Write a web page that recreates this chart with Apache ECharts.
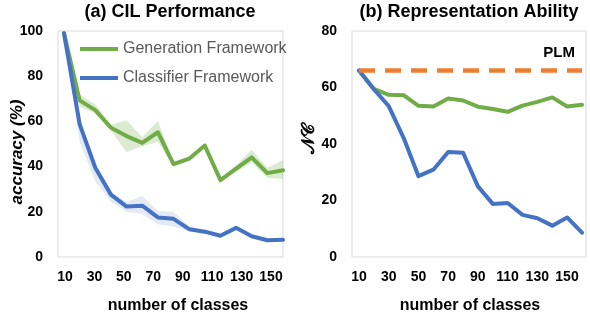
<!DOCTYPE html>
<html>
<head>
<meta charset="utf-8">
<script src="https://cdn.jsdelivr.net/npm/echarts@6/dist/echarts.min.js"></script>
<style>
html,body{margin:0;padding:0;background:#fff;}
#c{width:590px;height:312px;}
</style>
</head>
<body>
<div id="c"></div>
<script>
// ---- data: (a) CIL Performance ----
const classesA = [10,20,30,40,50,60,70,80,90,100,110,120,130,140,150];
const genA      = [99, 69.3, 65.0, 57.2, 53.5, 50.5, 55.2, 41.1, 43.5, 49.3, 34.0, 39.1, 44.1, 37.1, 38.4];
const genAUpper = [99, 72.0, 67.5, 58.5, 60.5, 53.0, 60.2, 42.0, 44.5, 50.3, 35.0, 40.5, 47.5, 39.5, 42.8];
const genALower = [99, 66.5, 63.5, 56.0, 46.5, 49.0, 51.0, 40.3, 42.5, 48.3, 33.3, 37.5, 41.8, 35.1, 34.5];
const clsA      = [99, 58.8, 39.5, 27.6, 22.3, 22.7, 17.5, 16.9, 12.3, 11.2, 9.4, 12.9, 9.2, 7.4, 7.6];
const clsAUpper = [99, 59.5, 41.0, 28.5, 24.5, 27.0, 20.5, 20.0, 13.5, 12.0, 10.2, 13.5, 9.8, 8.0, 8.2];
const clsALower = [99, 51.0, 33.5, 24.5, 20.0, 19.0, 14.5, 13.5, 11.5, 10.5, 9.0, 12.3, 8.7, 7.0, 7.2];
const tickLabelsA = ['10','30','50','70','90','110','130','150'];

// ---- data: (b) Representation Ability ----
const classesB = [10,20,30,40,50,60,70,80,90,100,110,120,130,140,150,160];
const genB = [66, 59.5, 57.4, 57.3, 53.5, 53.3, 56.1, 55.4, 53.2, 52.4, 51.4, 53.6, 54.9, 56.5, 53.3, 53.9];
const clsB = [66, 59.4, 53.4, 42.2, 28.6, 30.9, 37.2, 36.9, 25.0, 18.8, 19.1, 14.9, 13.7, 11.1, 14.0, 8.6];
const plmB = 66;
const tickLabelsB = ['10','30','50','70','90','110','130','150'];

const GREEN = '#70AD47', BLUE = '#4472C4', ORANGE = '#ED7D31';
const FONT = '"Liberation Sans", Arial, sans-serif';

function diff(u, l){ return u.map((v,i)=>+(v - l[i]).toFixed(2)); }

const tickLabelStyle = {fontFamily: FONT, fontWeight: 'bold', fontSize: 14, color: '#000'};
const labelAxis = (grid, data) => ({type: 'category', gridIndex: grid, data: data, boundaryGap: false,
  axisLine: {show: false}, axisTick: {show: false}, splitLine: {show: false},
  axisLabel: Object.assign({margin: 13, interval: 0}, tickLabelStyle)});
const lineStyle = c => ({width: 4, color: c, cap: 'round', join: 'round'});

const option = {
  animation: false,
  backgroundColor: '#fff',
  grid: [
    {left: 58, top: 31, width: 225, height: 226, show: true, borderColor: '#d9d9d9', borderWidth: 1, backgroundColor: 'transparent'},
    {left: 64, top: 31, width: 219, height: 226},
    {left: 65, top: 31, width: 206, height: 226},
    {left: 352, top: 31, width: 234, height: 226, show: true, borderColor: '#d9d9d9', borderWidth: 1, backgroundColor: 'transparent'},
    {left: 359, top: 31, width: 223, height: 226},
    {left: 359, top: 31, width: 208, height: 226}
  ],
  xAxis: [
    {type: 'value', gridIndex: 0, show: false},
    {type: 'category', gridIndex: 1, data: classesA.map(String), boundaryGap: false, show: false},
    labelAxis(2, tickLabelsA),
    {type: 'value', gridIndex: 3, show: false},
    {type: 'category', gridIndex: 4, data: classesB.map(String), boundaryGap: false, show: false},
    labelAxis(5, tickLabelsB)
  ],
  yAxis: [
    {type: 'value', gridIndex: 0, min: 0, max: 100, interval: 20,
     axisLine: {show: false}, axisTick: {show: false}, splitLine: {show: false},
     axisLabel: Object.assign({margin: 15}, tickLabelStyle)},
    {type: 'value', gridIndex: 1, min: 0, max: 100, show: false},
    {type: 'value', gridIndex: 2, min: 0, max: 100, show: false},
    {type: 'value', gridIndex: 3, min: 0, max: 80, interval: 20,
     axisLine: {show: false}, axisTick: {show: false}, splitLine: {show: false},
     axisLabel: Object.assign({margin: 15}, tickLabelStyle)},
    {type: 'value', gridIndex: 4, min: 0, max: 80, show: false},
    {type: 'value', gridIndex: 5, min: 0, max: 80, show: false}
  ],
  legend: {
    orient: 'vertical', left: 75, top: 35, itemWidth: 38, itemHeight: 4, itemGap: 11,
    icon: 'rect',
    textStyle: {fontFamily: FONT, fontSize: 16, color: '#595959', lineHeight: 18},
    data: ['Generation Framework', 'Classifier Framework']
  },
  series: [
    // bands (a)
    {type: 'line', xAxisIndex: 1, yAxisIndex: 1, stack: 'gBand', data: genALower,
     symbol: 'none', lineStyle: {opacity: 0}, silent: true, z: 1},
    {type: 'line', xAxisIndex: 1, yAxisIndex: 1, stack: 'gBand', data: diff(genAUpper, genALower),
     symbol: 'none', lineStyle: {opacity: 0}, areaStyle: {color: 'rgba(112,173,71,0.25)', opacity: 1}, silent: true, z: 1},
    {type: 'line', xAxisIndex: 1, yAxisIndex: 1, stack: 'bBand', data: clsALower,
     symbol: 'none', lineStyle: {opacity: 0}, silent: true, z: 1},
    {type: 'line', xAxisIndex: 1, yAxisIndex: 1, stack: 'bBand', data: diff(clsAUpper, clsALower),
     symbol: 'none', lineStyle: {opacity: 0}, areaStyle: {color: 'rgba(68,114,196,0.15)', opacity: 1}, silent: true, z: 1},
    // lines (a)
    {name: 'Generation Framework', type: 'line', xAxisIndex: 1, yAxisIndex: 1, data: genA,
     symbol: 'none', color: GREEN, lineStyle: lineStyle(GREEN), z: 3},
    {name: 'Classifier Framework', type: 'line', xAxisIndex: 1, yAxisIndex: 1, data: clsA,
     symbol: 'none', color: BLUE, lineStyle: lineStyle(BLUE), z: 4},
    // lines (b)
    {name: 'Generation (b)', type: 'line', xAxisIndex: 4, yAxisIndex: 4, data: genB,
     symbol: 'none', color: GREEN, lineStyle: lineStyle(GREEN), z: 3},
    {name: 'Classifier (b)', type: 'line', xAxisIndex: 4, yAxisIndex: 4, data: clsB,
     symbol: 'none', color: BLUE, lineStyle: lineStyle(BLUE), z: 4,
     markLine: {
       silent: true, symbol: ['none', 'none'], animation: false,
       lineStyle: {color: ORANGE, width: 4.5, type: [16, 10]},
       label: {show: true, formatter: 'PLM', position: 'insideEndTop', distance: [7, 10],
               fontFamily: FONT, fontWeight: 'bold', fontSize: 15, color: '#000'},
       data: [[{coord: [0, plmB]}, {coord: [classesB.length - 1, plmB]}]]
     }}
  ],
  graphic: [
    {type: 'text', x: 170, y: 12, style: {text: '(a) CIL Performance', font: 'bold 18px ' + FONT, fill: '#000', align: 'center', verticalAlign: 'middle'}},
    {type: 'text', x: 469, y: 12, style: {text: '(b) Representation Ability', font: 'bold 18px ' + FONT, fill: '#000', align: 'center', verticalAlign: 'middle'}},
    {type: 'text', x: 178, y: 306, style: {text: 'number of classes', font: 'bold 16px ' + FONT, fill: '#000', align: 'center', verticalAlign: 'middle'}},
    {type: 'text', x: 470, y: 306, style: {text: 'number of classes', font: 'bold 16px ' + FONT, fill: '#000', align: 'center', verticalAlign: 'middle'}},
    {type: 'text', x: 17, y: 152, rotation: Math.PI / 2, style: {text: 'accuracy (%)', font: 'italic bold 17px ' + FONT, fill: '#000', align: 'center', verticalAlign: 'middle'}},
    {type: 'text', x: 309, y: 139, rotation: Math.PI / 2, style: {text: '𝒩𝒞', font: 'bold 18px "DejaVu Sans", "DejaVu Serif", serif', fill: '#000', align: 'center', verticalAlign: 'middle'}}
  ]
};

const chart = echarts.init(document.getElementById('c'), null, {renderer: 'canvas'});
chart.setOption(option);
</script>
</body>
</html>
